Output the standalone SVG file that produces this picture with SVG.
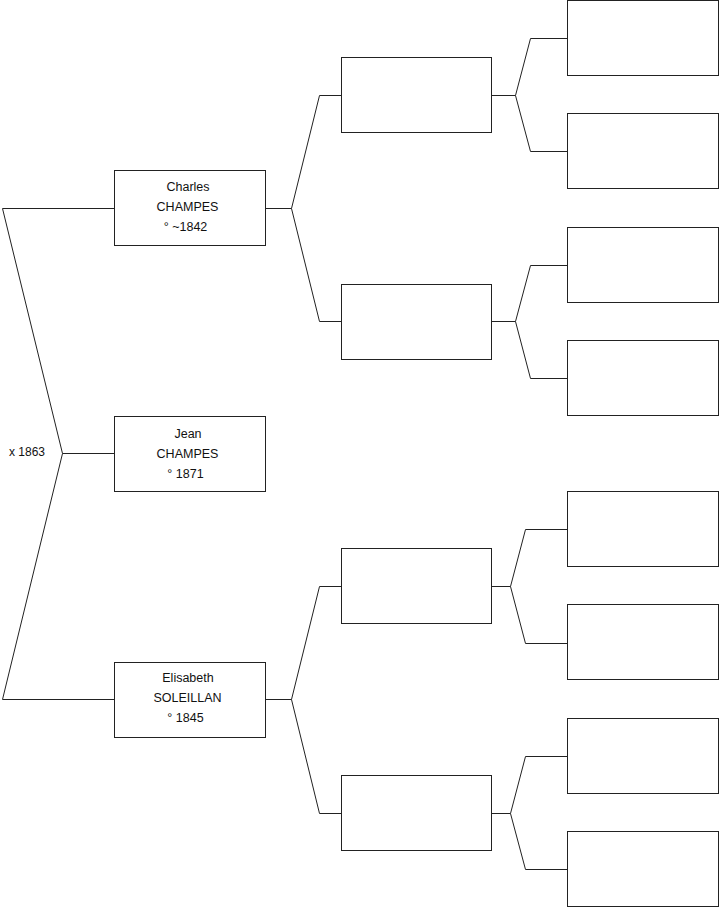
<svg xmlns="http://www.w3.org/2000/svg" width="719" height="908" viewBox="0 0 719 908">
<style>
.box{fill:#fff;stroke:#222;stroke-width:1}
.con{fill:none;stroke:#222;stroke-width:1}
text{font-family:"Liberation Sans",Arial,sans-serif;font-size:12px;fill:#111}
.c{text-anchor:middle;font-size:12.5px}
</style>
<rect width="719" height="908" fill="#fff"/>
<g id="connectors">
<path class="con" d="M114.5,208.5 H2.5 L62.5,453.5 L2.5,699.5 H114.5 M62.5,453.5 H114.5"/>
<path class="con" d="M341.5,95.5 H319.5 L291.5,208.5 L319.5,321.5 H341.5 M265.5,208.5 H291.5"/>
<path class="con" d="M341.5,586.5 H319.5 L291.5,699.5 L319.5,813.5 H341.5 M265.5,699.5 H291.5"/>
<path class="con" d="M567.5,38.5 H530.5 L515.5,95.5 L530.5,151.5 H567.5 M491.5,95.5 H515.5"/>
<path class="con" d="M567.5,265.5 H530.5 L515.5,321.5 L530.5,378.5 H567.5 M491.5,321.5 H515.5"/>
<path class="con" d="M567.5,529.5 H525.5 L510.5,586.5 L525.5,643.5 H567.5 M491.5,586.5 H510.5"/>
<path class="con" d="M567.5,756.5 H525.5 L510.5,813.5 L525.5,869.5 H567.5 M491.5,813.5 H510.5"/>
<text x="9" y="456">x 1863</text>
</g>
<g id="charles">
<rect class="box" x="114.5" y="170.5" width="151" height="75"/>
<text class="c" x="188" y="191">Charles</text>
<text class="c" x="187.5" y="211">CHAMPES</text>
<text class="c" x="185.5" y="231">° ~1842</text>
</g>
<g id="jean">
<rect class="box" x="114.5" y="416.5" width="151" height="75"/>
<text class="c" x="188" y="437.5">Jean</text>
<text class="c" x="187.5" y="458">CHAMPES</text>
<text class="c" x="185.5" y="477.5">° 1871</text>
</g>
<g id="elisabeth">
<rect class="box" x="114.5" y="662.5" width="151" height="75"/>
<text class="c" x="188" y="682">Elisabeth</text>
<text class="c" x="187.5" y="702">SOLEILLAN</text>
<text class="c" x="185.5" y="721.5">° 1845</text>
</g>
<g id="f1"><rect class="box" x="341.5" y="57.5" width="150" height="75"/></g>
<g id="m1"><rect class="box" x="341.5" y="284.5" width="150" height="75"/></g>
<g id="f2"><rect class="box" x="341.5" y="548.5" width="150" height="75"/></g>
<g id="m2"><rect class="box" x="341.5" y="775.5" width="150" height="75"/></g>
<g id="g1"><rect class="box" x="567.5" y="0.5" width="151" height="75"/></g>
<g id="g2"><rect class="box" x="567.5" y="113.5" width="151" height="75"/></g>
<g id="g3"><rect class="box" x="567.5" y="227.5" width="151" height="75"/></g>
<g id="g4"><rect class="box" x="567.5" y="340.5" width="151" height="75"/></g>
<g id="g5"><rect class="box" x="567.5" y="491.5" width="151" height="75"/></g>
<g id="g6"><rect class="box" x="567.5" y="604.5" width="151" height="75"/></g>
<g id="g7"><rect class="box" x="567.5" y="718.5" width="151" height="75"/></g>
<g id="g8"><rect class="box" x="567.5" y="831.5" width="151" height="75"/></g>
</svg>
